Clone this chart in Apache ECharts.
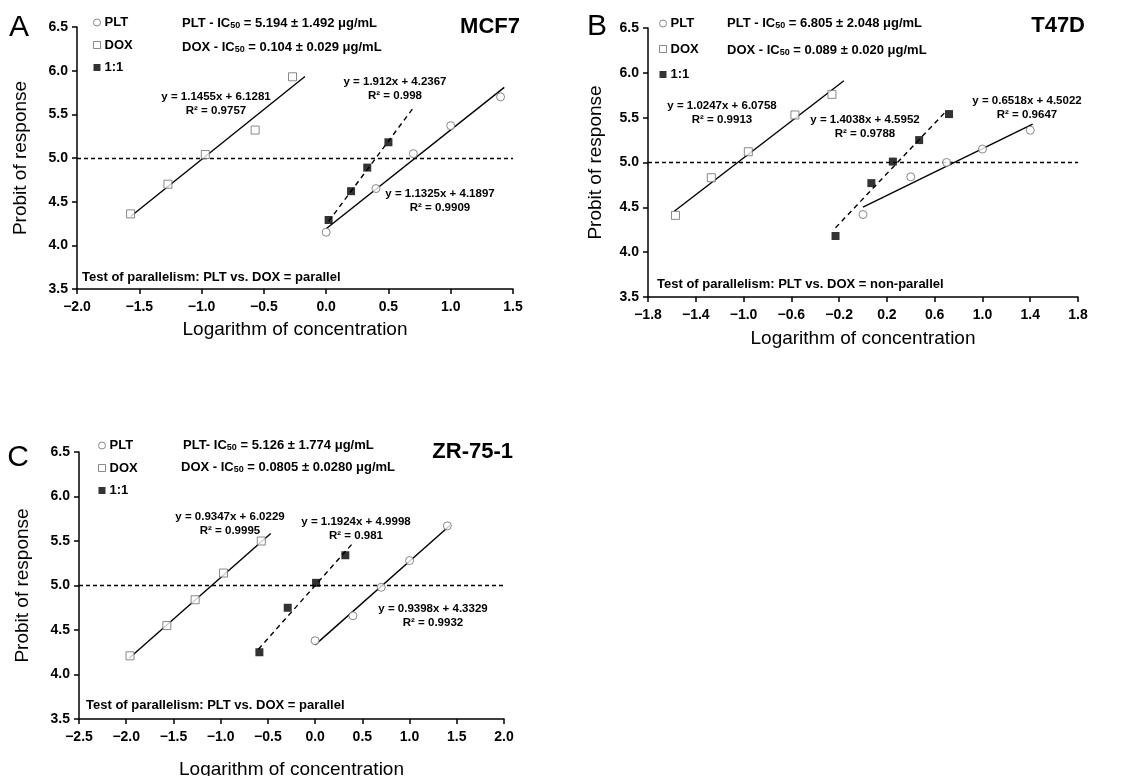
<!DOCTYPE html>
<html>
<head>
<meta charset="utf-8">
<title>Probit plots - MCF7, T47D, ZR-75-1</title>
<script src="https://cdn.jsdelivr.net/npm/echarts@6/dist/echarts.min.js"></script>
<style>
  html, body { margin: 0; padding: 0; background: #fff; }
  #chart { width: 1146px; height: 776px; }
</style>
</head>
<body>
<div id="chart"></div>
<script>
// ---- data ----
// order inside fit arrays: PLT, DOX, 1:1
var panelNames = ['MCF7', 'T47D', 'ZR-75-1'];
var panelLetters = ['A', 'B', 'C'];

// A - MCF7
var pltX_A = [0, 0.4, 0.7, 1.0, 1.4];
var pltY_A = [4.15, 4.65, 5.05, 5.37, 5.70];
var doxX_A = [-1.57, -1.27, -0.97, -0.57, -0.27];
var doxY_A = [4.36, 4.70, 5.04, 5.32, 5.93];
var mixX_A = [0.02, 0.2, 0.33, 0.5];
var mixY_A = [4.29, 4.62, 4.89, 5.18];
var slope_A = [1.1325, 1.1455, 1.912];
var icpt_A = [4.1897, 6.1281, 4.2367];
var r2_A = [0.9909, 0.9757, 0.998];
var fitFrom_A = [0, -1.57, 0.02];
var fitTo_A = [1.43, -0.17, 0.71];

// B - T47D
var pltX_B = [0, 0.4, 0.7, 1.0, 1.4];
var pltY_B = [4.42, 4.84, 5.00, 5.15, 5.36];
var doxX_B = [-1.57, -1.27, -0.96, -0.57, -0.26];
var doxY_B = [4.41, 4.83, 5.12, 5.53, 5.76];
var mixX_B = [-0.23, 0.07, 0.25, 0.47, 0.72];
var mixY_B = [4.18, 4.77, 5.01, 5.25, 5.54];
var slope_B = [0.6518, 1.0247, 1.4038];
var icpt_B = [4.5022, 6.0758, 4.5952];
var r2_B = [0.9647, 0.9913, 0.9788];
var fitFrom_B = [0, -1.58, -0.23];
var fitTo_B = [1.42, -0.16, 0.70];

// C - ZR-75-1
var pltX_C = [0, 0.4, 0.7, 1.0, 1.4];
var pltY_C = [4.38, 4.66, 4.98, 5.28, 5.67];
var doxX_C = [-1.96, -1.57, -1.27, -0.97, -0.57];
var doxY_C = [4.21, 4.55, 4.84, 5.14, 5.50];
var mixX_C = [-0.59, -0.29, 0.01, 0.32];
var mixY_C = [4.25, 4.75, 5.03, 5.34];
var slope_C = [0.9398, 0.9347, 1.1924];
var icpt_C = [4.3329, 6.0229, 4.9998];
var r2_C = [0.9932, 0.9995, 0.981];
var fitFrom_C = [0, -1.97, -0.6];
var fitTo_C = [1.43, -0.47, 0.4];

var ic50Plt = ['5.194 \u00b1 1.492', '6.805 \u00b1 2.048', '5.126 \u00b1 1.774'];
var ic50Dox = ['0.104 \u00b1 0.029', '0.089 \u00b1 0.020', '0.0805 \u00b1 0.0280'];
var parallelTest = ['parallel', 'non-parallel', 'parallel'];

// tick labels
var xTicks_A = [-2.0, -1.5, -1.0, -0.5, 0.0, 0.5, 1.0, 1.5];
var xTicks_B = [-1.8, -1.4, -1.0, -0.6, -0.2, 0.2, 0.6, 1.0, 1.4, 1.8];
var xTicks_C = [-2.5, -2.0, -1.5, -1.0, -0.5, 0.0, 0.5, 1.0, 1.5, 2.0];
var yTicks = [3.5, 4.0, 4.5, 5.0, 5.5, 6.0, 6.5];

// ---- layout ----
var FONT = 'Arial, "Liberation Sans", sans-serif';
var grids = [
  { left: 77, top: 27, width: 436, height: 262 },
  { left: 648, top: 28, width: 430, height: 269 },
  { left: 79, top: 452, width: 425, height: 267 }
];
var xNameGap = [31, 32, 41];
var yNameGap = [47, 43, 47];

function zip(xs, ys) {
  var out = [];
  for (var i = 0; i < xs.length; i++) out.push([xs[i], ys[i]]);
  return out;
}
function fmt(v) {
  return v.toFixed(1).replace('-', '\u2212');
}

var panels = [
  { xs: [pltX_A, doxX_A, mixX_A], ys: [pltY_A, doxY_A, mixY_A], slope: slope_A, icpt: icpt_A, r2: r2_A, from: fitFrom_A, to: fitTo_A, ticks: xTicks_A },
  { xs: [pltX_B, doxX_B, mixX_B], ys: [pltY_B, doxY_B, mixY_B], slope: slope_B, icpt: icpt_B, r2: r2_B, from: fitFrom_B, to: fitTo_B, ticks: xTicks_B },
  { xs: [pltX_C, doxX_C, mixX_C], ys: [pltY_C, doxY_C, mixY_C], slope: slope_C, icpt: icpt_C, r2: r2_C, from: fitFrom_C, to: fitTo_C, ticks: xTicks_C }
];

var names = ['PLT', 'DOX', '1:1'];
var symbols = ['circle', 'rect', 'rect'];
var markStyles = [
  { color: '#fff', borderColor: '#6b6b6b', borderWidth: 1 },
  { color: '#fff', borderColor: '#6b6b6b', borderWidth: 1 },
  { color: '#000', borderColor: '#000', borderWidth: 0 }
];

var xAxes = [], yAxes = [], series = [], legends = [], graphics = [];

panels.forEach(function (p, i) {
  var ticks = p.ticks;
  xAxes.push({
    type: 'value', gridIndex: i,
    min: ticks[0], max: ticks[ticks.length - 1],
    axisLine: { show: true, onZero: false, lineStyle: { color: '#000', width: 1.5 } },
    axisTick: { show: true, length: 5, lineStyle: { color: '#000', width: 1.5 }, customValues: ticks },
    axisLabel: { customValues: ticks, formatter: fmt, fontWeight: 'bold', fontSize: 14, color: '#000', fontFamily: FONT, margin: 11 },
    splitLine: { show: false },
    name: 'Logarithm of concentration', nameLocation: 'middle', nameGap: xNameGap[i],
    nameTextStyle: { fontSize: 19, color: '#000', fontFamily: FONT }
  });
  yAxes.push({
    type: 'value', gridIndex: i,
    min: yTicks[0], max: yTicks[yTicks.length - 1],
    axisLine: { show: true, onZero: false, lineStyle: { color: '#000', width: 1.5 } },
    axisTick: { show: true, length: 5, lineStyle: { color: '#000', width: 1.5 }, customValues: yTicks },
    axisLabel: { customValues: yTicks, formatter: fmt, fontWeight: 'bold', fontSize: 14, color: '#000', fontFamily: FONT, margin: 9 },
    splitLine: { show: false },
    name: 'Probit of response', nameLocation: 'middle', nameGap: yNameGap[i],
    nameTextStyle: { fontSize: 19, color: '#000', fontFamily: FONT }
  });

  // fitted lines
  for (var j = 0; j < 3; j++) {
    var a = p.from[j], b = p.to[j];
    var s = {
      type: 'line', name: names[j] + ' fit', xAxisIndex: i, yAxisIndex: i,
      data: [[a, p.icpt[j] + p.slope[j] * a], [b, p.icpt[j] + p.slope[j] * b]],
      showSymbol: false, silent: true, z: 2,
      lineStyle: { color: '#000', width: 1.4, type: j === 2 ? [5, 4] : 'solid' }
    };
    if (j === 1) {
      // probit 5 reference line
      s.markLine = {
        silent: true, symbol: ['none', 'none'], label: { show: false },
        lineStyle: { color: '#000', width: 1.3, type: [4, 3] },
        data: [{ yAxis: 5 }]
      };
    }
    series.push(s);
  }
  // points
  for (var k = 0; k < 3; k++) {
    series.push({
      type: 'scatter', name: names[k], xAxisIndex: i, yAxisIndex: i,
      data: zip(p.xs[k], p.ys[k]),
      symbol: symbols[k], symbolSize: 8, z: 5,
      itemStyle: markStyles[k]
    });
  }
});

// legends
var legendPos = [
  { left: 93, top: 16, itemGap: 9.5 },
  { left: 659, top: 17, itemGap: 12.5 },
  { left: 98, top: 439, itemGap: 9.5 }
];
legendPos.forEach(function (lp) {
  legends.push({
    left: lp.left, top: lp.top, orient: 'vertical', itemGap: lp.itemGap,
    itemWidth: 7, itemHeight: 7, selectedMode: false, padding: 0,
    textStyle: { fontWeight: 'bold', fontSize: 13, color: '#000', fontFamily: FONT, padding: [0, 0, 0, -1] },
    data: names.map(function (n, j) {
      return { name: n, icon: symbols[j], itemStyle: markStyles[j] };
    })
  });
});

// text annotations
function txt(x, y, text, size, weight, align, extra) {
  var style = {
    text: text, fontSize: size, fontWeight: weight || 'bold', fontFamily: FONT,
    fill: '#000', textAlign: align || 'left', textVerticalAlign: 'middle'
  };
  if (extra) for (var key in extra) style[key] = extra[key];
  return { type: 'text', x: x, y: y, style: style, silent: true };
}
var subRich = {
  sub: { fontSize: 9, fontWeight: 'bold', fontFamily: FONT, verticalAlign: 'bottom', padding: [5, 0, 0, 0] }
};

var letterPos = [[19, 28], [597, 27], [18, 458]];
var titlePos = [[520, 27], [1085, 26], [513, 452]];
var icPos = [[[182, 23], [182, 47]], [[727, 23], [727, 50]], [[183, 445], [181, 467]]];
var pltPrefix = ['PLT - IC', 'PLT - IC', 'PLT- IC'];
var testPos = [[82, 277], [657, 284], [86, 705]];
// centre of each equation block, order PLT, DOX, 1:1
var eqPos = [
  [[440, 201], [216, 104], [395, 89]],
  [[1027, 108], [722, 113], [865, 127]],
  [[433, 616], [230, 524], [356, 529]]
];

panels.forEach(function (p, i) {
  graphics.push(txt(letterPos[i][0], letterPos[i][1], panelLetters[i], 30, 'normal', 'center'));
  graphics.push(txt(titlePos[i][0], titlePos[i][1], panelNames[i], 22, 'bold', 'right'));
  graphics.push(txt(icPos[i][0][0], icPos[i][0][1], pltPrefix[i] + '{sub|50} = ' + ic50Plt[i] + ' \u03bcg/mL', 13, 'bold', 'left', { rich: subRich }));
  graphics.push(txt(icPos[i][1][0], icPos[i][1][1], 'DOX - IC{sub|50} = ' + ic50Dox[i] + ' \u03bcg/mL', 13, 'bold', 'left', { rich: subRich }));
  graphics.push(txt(testPos[i][0], testPos[i][1], 'Test of parallelism: PLT vs. DOX = ' + parallelTest[i], 13, 'bold', 'left'));
  for (var j = 0; j < 3; j++) {
    var eq = 'y = ' + p.slope[j] + 'x + ' + p.icpt[j] + '\nR\u00b2 = ' + p.r2[j];
    graphics.push(txt(eqPos[i][j][0], eqPos[i][j][1], eq, 11.5, 'bold', 'center', { lineHeight: 14 }));
  }
});

var chart = echarts.init(document.getElementById('chart'), null, { renderer: 'canvas' });
chart.setOption({
  animation: false,
  backgroundColor: '#fff',
  grid: grids.map(function (g) {
    return { left: g.left, top: g.top, width: g.width, height: g.height, containLabel: false, outerBoundsMode: 'none' };
  }),
  xAxis: xAxes,
  yAxis: yAxes,
  legend: legends,
  series: series,
  graphic: graphics
});
</script>
</body>
</html>
